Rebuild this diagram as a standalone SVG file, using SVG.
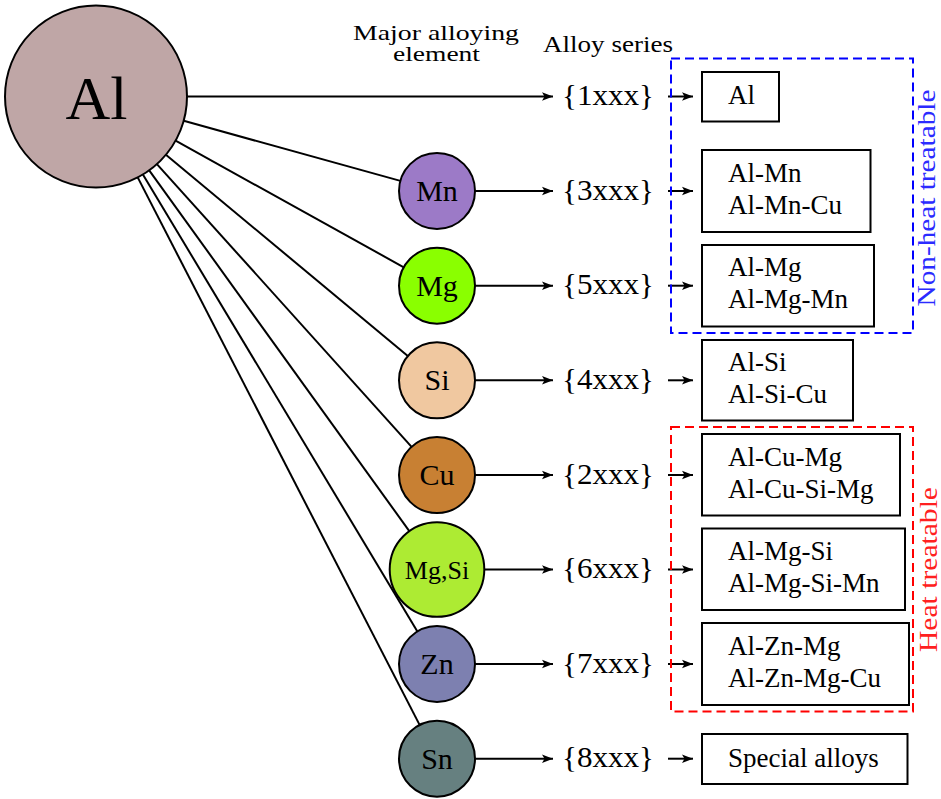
<svg xmlns="http://www.w3.org/2000/svg" width="941" height="799" viewBox="0 0 941 799">
<style>
text{font-family:"Liberation Serif","Times New Roman",serif;fill:#000}
.el{stroke:#000;stroke-width:2}
.elt{font-size:30px;text-anchor:middle}
.ser{font-size:30px;text-anchor:middle}
.box{fill:#fff;stroke:#000;stroke-width:2}
.bt{font-size:27px}
.ln{stroke:#000;stroke-width:2;fill:none}
.arr{stroke:#000;stroke-width:2;fill:none;marker-end:url(#ah)}
.hdr{font-size:24px;text-anchor:middle}
.hdr2{font-size:21px;text-anchor:middle}
</style>
<defs>
<marker id="ah" markerWidth="12" markerHeight="10" refX="11" refY="5" orient="auto" markerUnits="userSpaceOnUse">
<path d="M0,0.8 L11,5 L0,9.2 L2.5,5 Z" fill="#000"/>
</marker>
</defs>
<rect width="941" height="799" fill="#fff"/>

<g id="headers">
<text class="hdr2" x="436" y="40" textLength="166" lengthAdjust="spacingAndGlyphs">Major alloying</text>
<text class="hdr2" x="436.5" y="61" textLength="87" lengthAdjust="spacingAndGlyphs">element</text>
<text class="hdr" x="608" y="52" textLength="130" lengthAdjust="spacingAndGlyphs">Alloy series</text>
</g>

<g id="connectors">
<line class="ln" x1="183.7" y1="120.8" x2="400.4" y2="180.9"/>
<line class="ln" x1="175.6" y1="140.7" x2="403.8" y2="267.3"/>
<line class="ln" x1="165.9" y1="154.7" x2="407.8" y2="356.0"/>
<line class="ln" x1="156.9" y1="164.1" x2="411.6" y2="446.8"/>
<line class="ln" x1="149.2" y1="170.3" x2="409.3" y2="531.1"/>
<line class="ln" x1="142.9" y1="174.5" x2="417.4" y2="631.4"/>
<line class="ln" x1="137.7" y1="177.4" x2="419.6" y2="724.9"/>
<line class="arr" x1="187" y1="96.5" x2="553" y2="96.5"/>
<line class="arr" x1="475" y1="191" x2="553" y2="191"/>
<line class="arr" x1="475" y1="285.7" x2="553" y2="285.7"/>
<line class="arr" x1="475" y1="380.3" x2="553" y2="380.3"/>
<line class="arr" x1="475" y1="475" x2="553" y2="475"/>
<line class="arr" x1="484" y1="569.5" x2="553" y2="569.5"/>
<line class="arr" x1="475" y1="664" x2="553" y2="664"/>
<line class="arr" x1="475" y1="758.7" x2="553" y2="758.7"/>
<line class="arr" x1="668" y1="96.5" x2="693" y2="96.5"/>
<line class="arr" x1="668" y1="191" x2="693" y2="191"/>
<line class="arr" x1="668" y1="285.7" x2="693" y2="285.7"/>
<line class="arr" x1="668" y1="380.3" x2="693" y2="380.3"/>
<line class="arr" x1="668" y1="475" x2="693" y2="475"/>
<line class="arr" x1="668" y1="569.5" x2="693" y2="569.5"/>
<line class="arr" x1="668" y1="664" x2="693" y2="664"/>
<line class="arr" x1="668" y1="758.7" x2="693" y2="758.7"/>
</g>

<g id="node-Al">
<circle class="el" cx="96" cy="96.5" r="91" fill="#BFA6A6"/>
<text x="96.5" y="119" font-size="62" text-anchor="middle">Al</text>
</g>
<g id="node-Mn"><circle class="el" cx="437" cy="191" r="38" fill="#9C7AC7"/><text class="elt" x="437" y="201">Mn</text></g>
<g id="node-Mg"><circle class="el" cx="437" cy="285.7" r="38" fill="#8AFF00"/><text class="elt" x="437" y="295.7">Mg</text></g>
<g id="node-Si"><circle class="el" cx="437" cy="380.3" r="38" fill="#F0C8A0"/><text class="elt" x="437" y="390.3">Si</text></g>
<g id="node-Cu"><circle class="el" cx="437" cy="475" r="38" fill="#C88033"/><text class="elt" x="437" y="485">Cu</text></g>
<g id="node-MgSi"><circle class="el" cx="437" cy="569.5" r="47.3" fill="#ADEB33"/><text x="437" y="578.5" font-size="26" text-anchor="middle">Mg,Si</text></g>
<g id="node-Zn"><circle class="el" cx="437" cy="664" r="38" fill="#7D80B0"/><text class="elt" x="437" y="674">Zn</text></g>
<g id="node-Sn"><circle class="el" cx="437" cy="758.7" r="38" fill="#668080"/><text class="elt" x="437" y="768.7">Sn</text></g>

<g id="series">
<text class="ser" x="608" y="105" textLength="92" lengthAdjust="spacingAndGlyphs">{1xxx}</text>
<text class="ser" x="608" y="199.5" textLength="92" lengthAdjust="spacingAndGlyphs">{3xxx}</text>
<text class="ser" x="608" y="294.2" textLength="92" lengthAdjust="spacingAndGlyphs">{5xxx}</text>
<text class="ser" x="608" y="388.8" textLength="92" lengthAdjust="spacingAndGlyphs">{4xxx}</text>
<text class="ser" x="608" y="483.5" textLength="92" lengthAdjust="spacingAndGlyphs">{2xxx}</text>
<text class="ser" x="608" y="578" textLength="92" lengthAdjust="spacingAndGlyphs">{6xxx}</text>
<text class="ser" x="608" y="672.5" textLength="92" lengthAdjust="spacingAndGlyphs">{7xxx}</text>
<text class="ser" x="608" y="767.2" textLength="92" lengthAdjust="spacingAndGlyphs">{8xxx}</text>
</g>

<g id="group-nonheat">
<rect x="671" y="58.5" width="242" height="274.5" fill="none" stroke="#0000FF" stroke-width="2" stroke-dasharray="9 5"/>
<text x="935" y="198" font-size="25" style="fill:#2B2BFF" text-anchor="middle" transform="rotate(-90 935 198)" textLength="217" lengthAdjust="spacingAndGlyphs">Non-heat treatable</text>
</g>
<g id="group-heat">
<rect x="671" y="427" width="242" height="284.5" fill="none" stroke="#FF0000" stroke-width="2" stroke-dasharray="9 5"/>
<text x="937" y="569.5" font-size="25" style="fill:#FF2020" text-anchor="middle" transform="rotate(-90 937 569.5)" textLength="165" lengthAdjust="spacingAndGlyphs">Heat treatable</text>
</g>

<g id="box-1xxx"><rect class="box" x="702" y="72" width="77" height="49.5"/><text class="bt" x="728" y="103.5">Al</text></g>
<g id="box-3xxx"><rect class="box" x="702" y="150" width="168.5" height="82"/><text class="bt" x="728" y="181.5">Al-Mn</text><text class="bt" x="728" y="213.5">Al-Mn-Cu</text></g>
<g id="box-5xxx"><rect class="box" x="702" y="245" width="172" height="81.5"/><text class="bt" x="728" y="276.2">Al-Mg</text><text class="bt" x="728" y="308.2">Al-Mg-Mn</text></g>
<g id="box-4xxx"><rect class="box" x="702" y="340" width="151" height="80.5"/><text class="bt" x="728" y="370.8">Al-Si</text><text class="bt" x="728" y="402.8">Al-Si-Cu</text></g>
<g id="box-2xxx"><rect class="box" x="702" y="434" width="198" height="81.5"/><text class="bt" x="728" y="465.5">Al-Cu-Mg</text><text class="bt" x="728" y="497.5">Al-Cu-Si-Mg</text></g>
<g id="box-6xxx"><rect class="box" x="702" y="528.5" width="203" height="81.5"/><text class="bt" x="728" y="560">Al-Mg-Si</text><text class="bt" x="728" y="592">Al-Mg-Si-Mn</text></g>
<g id="box-7xxx"><rect class="box" x="702" y="623" width="207" height="82"/><text class="bt" x="728" y="654.5">Al-Zn-Mg</text><text class="bt" x="728" y="686.5">Al-Zn-Mg-Cu</text></g>
<g id="box-8xxx"><rect class="box" x="702" y="734" width="205.5" height="50"/><text class="bt" x="728" y="767">Special alloys</text></g>
</svg>
